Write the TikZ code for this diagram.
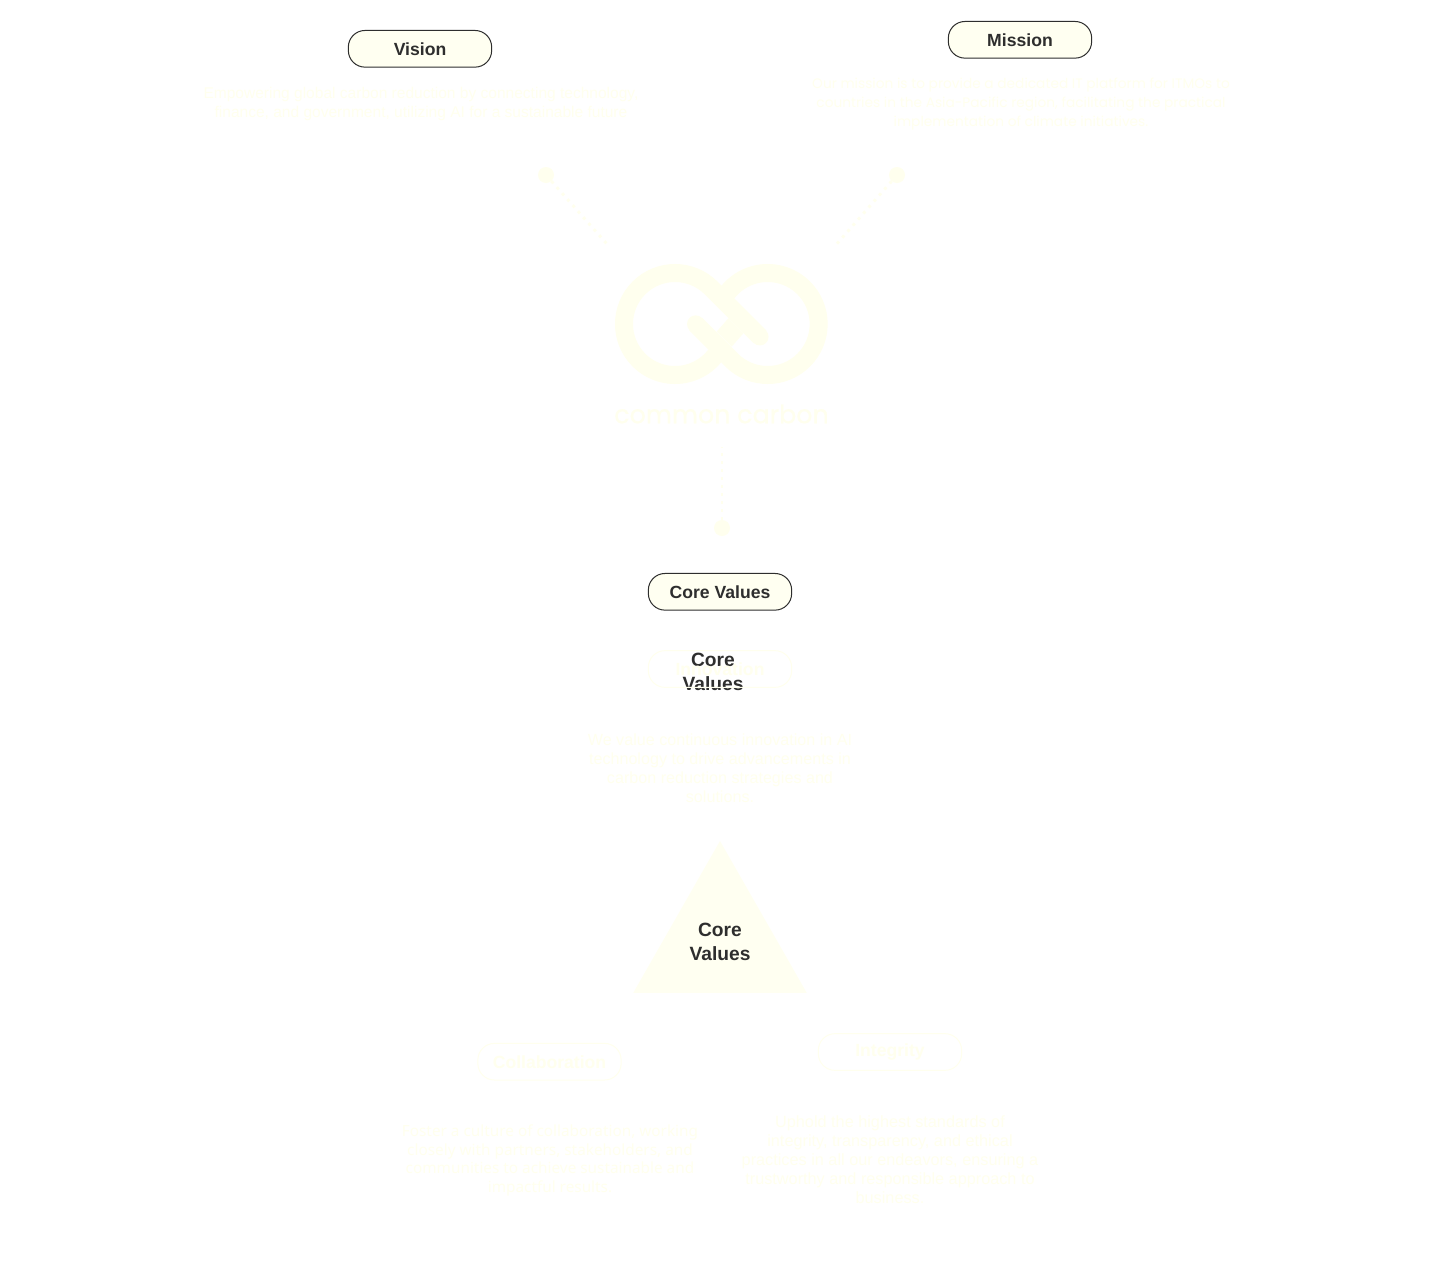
\documentclass[tikz,border=0pt]{standalone}
\usepackage{fontspec}
\setmainfont{Liberation Sans}
\newfontfamily\titlefont{Liberation Sans}
\newfontfamily\popfont{Poppins}
\newfontfamily\logofont{Poppins}[FakeBold=0.4]
\newfontfamily\notofont{Noto Sans}
\definecolor{cream}{HTML}{FFFFEE}
\definecolor{pillfill}{HTML}{FFFFF1}
\definecolor{ink}{HTML}{2E2E2E}
\tikzset{
  x=0.75pt,y=-0.75pt,
  pillbox/.style={draw=ink,line width=0.75pt,fill=pillfill,rounded corners=12.5pt,minimum width=107.5pt,minimum height=27.5pt,inner sep=0pt,text=ink,font=\titlefont\bfseries\fontsize{13.2}{18}\selectfont},
  ghostpill/.style={pillbox,draw=cream,fill=none,text=cream},
  bodytext/.style={text=cream,align=center,inner sep=0pt,font=\fontsize{11.65}{14}\selectfont},
  headtext/.style={text=ink,align=center,inner sep=0pt,font=\titlefont\bfseries\fontsize{14.4}{18}\selectfont},
  enddot/.style={circle,fill=cream,minimum size=12pt,inner sep=0pt},
  dotline/.style={draw=cream,line width=2.2pt,dash pattern=on 2.2pt off 3.8pt},
  ringstroke/.style={draw=cream,line width=13.5pt,line cap=butt},
  capdot/.style={circle,fill=cream,minimum size=13pt,inner sep=0pt}
}
\begin{document}
\begin{tikzpicture}
\useasboundingbox (0,0) rectangle (1440,1264);
\fill[white] (0,0) rectangle (1440,1264);

% top pills and their texts
\node[pillbox] (vision) at (420,48.8) {Vision};
\node[pillbox] (mission) at (1020,39.8) {Mission};
\node[bodytext] (visiontext) at (421,104) {Empowering global carbon reduction by connecting technology,\\finance, and government, utilizing AI for a sustainable future};
\node[bodytext,font=\popfont\fontsize{10.3}{14}\selectfont] (missiontext) at (1021,104) {Our mission is to provide a dedicated IT platform for ITMOs to\\countries in the Asia-Pacific region, facilitating the practical\\implementation of climate initiatives.};

% connectors to the logo
\node[enddot] (dotl) at (546,175) {};
\node[enddot] (dotr) at (897,175) {};
\node[enddot] (dotb) at (722,528) {};
\coordinate (logol) at (608.7,246);
\coordinate (logor) at (835,246);
\coordinate (logob) at (722,447);
\draw[dotline] (dotl) -- (logol);
\draw[dotline] (dotr) -- (logor);
\draw[dotline] (dotb) -- (logob);

% logo
\draw[ringstroke] (759.9,336.8) -- (711.06,287.94) arc[start angle=-45,end angle=-322,radius=51];
\draw[ringstroke] (695.67,324) -- (731.6,360.06) arc[start angle=135,end angle=-142,radius=51];
\node[capdot] (capa) at (695.67,324) {};
\node[capdot] (capb) at (759.9,336.8) {};
\fill[cream] (728.33,318.33) -- (716.67,331.67) -- (731.67,346.67) -- (743.33,333.33) -- cycle;
\node[text=cream,inner sep=0pt,font=\logofont\fontsize{19}{24}\selectfont] (logotext) at (721.5,414) {common carbon};

% core values
\node[pillbox] (corepill) at (720,591.8) {Core Values};
\node[headtext] (corehead) at (713,672) {Core\\Values};
\node[ghostpill] (innovation) at (720,669) {Innovation};
\node[bodytext,font=\fontsize{12.1}{14.2}\selectfont] (innotext) at (720,768.5) {We value continuous innovation in AI\\technology to drive advancements in\\carbon reduction strategies and\\solutions.};

% triangle
\fill[pillfill] (720,841) -- (806.7,992.8) -- (633.3,992.8) -- cycle;
\node[headtext] (trihead) at (720,942) {Core\\Values};

% lower pills and texts
\node[ghostpill] (collab) at (549.5,1061.7) {Collaboration};
\node[ghostpill] (integ) at (890,1052) {Integrity};
\node[bodytext,font=\notofont\fontsize{11.5}{14}\selectfont] (collabtext) at (550,1160.5) {Foster a culture of collaboration, working\\closely with partners, stakeholders, and\\communities to achieve sustainable and\\impactful results.};
\node[bodytext,font=\fontsize{12.2}{14.2}\selectfont] (integtext) at (890,1160) {Uphold the highest standards of\\integrity, transparency, and ethical\\practices in all our endeavors, ensuring a\\trustworthy and responsible approach to\\business.};
\end{tikzpicture}
\end{document}
